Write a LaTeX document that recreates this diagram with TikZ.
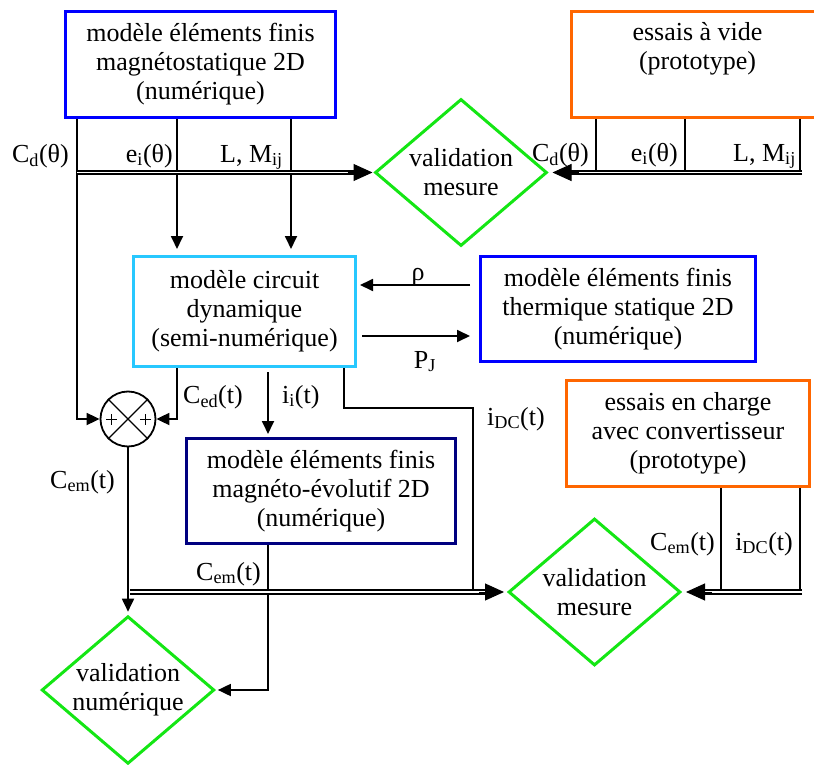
\documentclass[tikz,border=0pt]{standalone}
\usepackage{fontspec}
\setmainfont{Liberation Serif}
\usetikzlibrary{shapes.geometric,arrows.meta}
\definecolor{cblue}{RGB}{0,0,255}
\definecolor{ccyan}{RGB}{40,200,255}
\definecolor{cnavy}{RGB}{0,0,128}
\definecolor{corange}{RGB}{255,102,0}
\definecolor{cgreen}{RGB}{20,230,20}
\tikzset{
  box/.style={rectangle, draw, line width=3pt, align=center, inner sep=0pt},
  vdiam/.style={diamond, draw=cgreen, line width=3pt, aspect=1.17,
    minimum width=172pt, minimum height=147pt, inner sep=0pt, align=center},
  ln/.style={line width=1.8pt},
  thinln/.style={line width=1.5pt},
  sarr/.style={ln, -{Triangle[length=13pt,width=12pt]}},
  dbl/.style={double, double distance=1.6pt, line width=2pt},
  bigtip/.style={line width=1pt, -{Triangle[length=19pt,width=17pt]}},
  lbl/.style={inner sep=0pt},
}
\begin{document}
\begin{tikzpicture}[x=1pt, y=-1pt, font=\fontsize{26}{29}\selectfont]
\useasboundingbox (0,0) rectangle (814,765);

% guides
\coordinate (gL) at (77,0);
\coordinate (gE) at (177,0);
\coordinate (gM) at (291,0);
\coordinate (gI) at (268,0);
\coordinate (gD) at (344,0);
\coordinate (jD) at (473,408);
\coordinate (gB) at (130,0);
\coordinate (gR1) at (596,0);
\coordinate (gR2) at (685,0);
\coordinate (gRe) at (802,0);
\coordinate (gQ1) at (721,0);
\coordinate (gQ2) at (800,0);
\coordinate (yRho) at (0,285);
\coordinate (yPJ) at (0,336);

% boxes
\node[box, draw=cblue, minimum width=270pt, minimum height=106pt] (tl) at (200.5,64.5)
  {modèle éléments finis\\magnétostatique 2D\\(numérique)};
\node[box, draw=corange, minimum width=252pt, minimum height=106pt] (ot) at (697.5,64.5)
  {essais à vide\\(prototype)\\\strut};
\node[box, draw=ccyan, minimum width=222pt, minimum height=110pt] (cy) at (244.5,311.5)
  {modèle circuit\\dynamique\\(semi-numérique)};
\node[box, draw=cblue, minimum width=275pt, minimum height=105pt] (rb) at (618,309)
  {modèle éléments finis\\thermique statique 2D\\(numérique)};
\node[box, draw=cnavy, minimum width=269pt, minimum height=105pt] (nv) at (321,491)
  {modèle éléments finis\\magnéto-évolutif 2D\\(numérique)};
\node[box, draw=corange, minimum width=243pt, minimum height=106pt] (ob) at (688,433.5)
  {essais en charge\\avec convertisseur\\(prototype)};

% diamonds
\node[vdiam] (v1) at (461,172.5) {validation\\mesure};
\node[vdiam] (v2) at (594.5,592) {validation\\mesure};
\node[vdiam] (v3) at (128,690) {validation\\numérique};

% summing junction
\node[circle, draw, line width=1.8pt, minimum size=55pt, inner sep=0pt] (sum) at (128,419) {};
\draw[line width=1.2pt] (sum.north west) -- (sum.south east);
\draw[line width=1.2pt] (sum.north east) -- (sum.south west);
\draw[line width=1pt] ([xshift=-22pt]sum.center) -- ([xshift=-11pt]sum.center)
  ([xshift=-16.5pt,yshift=-5.5pt]sum.center) -- ([xshift=-16.5pt,yshift=5.5pt]sum.center);
\draw[line width=1pt] ([xshift=12pt]sum.center) -- ([xshift=23pt]sum.center)
  ([xshift=17.5pt,yshift=-5.5pt]sum.center) -- ([xshift=17.5pt,yshift=5.5pt]sum.center);

% top-left connectors
\draw[sarr] (tl.south -| gL) |- (sum.west);
\draw[sarr, shorten >=6pt] (tl.south -| gE) -- (cy.north -| gE);
\draw[sarr, shorten >=6pt] (tl.south -| gM) -- (cy.north -| gM);
\draw[dbl, shorten >=16pt] (gL |- v1.west) -- (v1.west);
\draw[bigtip, shorten >=1pt] ([xshift=-26pt]v1.west) -- (v1.west);

% top-right connectors
\draw[thinln] (ot.south -| gR1) -- (gR1 |- v1.east);
\draw[thinln] (ot.south -| gR2) -- (gR2 |- v1.east);
\draw[thinln] (ot.south -| gQ2) -- (gQ2 |- v1.east);
\draw[dbl, shorten >=18pt] (gRe |- v1.east) -- (v1.east);
\draw[bigtip, shorten >=4pt] ([xshift=30pt]v1.east) -- (v1.east);

% thermal coupling
\draw[sarr, shorten <=9pt, shorten >=3pt] (rb.west |- yRho) -- (cy.east |- yRho);
\draw[sarr, shorten <=5pt, shorten >=9pt] (cy.east |- yPJ) -- (rb.west |- yPJ);

% circuit model outputs
\draw[sarr] (cy.south -| gE) |- (sum.east);
\draw[sarr, shorten <=4pt, shorten >=3pt] (cy.south -| gI) -- (nv.north -| gI);
\draw[ln] (cy.south -| gD) |- (jD) -- (jD |- v2.west);
\draw[sarr, shorten >=3pt] (sum.south) -- (v3.north);
\draw[sarr, shorten >=2pt] (nv.south -| gI) |- (v3.east);

% bottom double line
\draw[dbl, shorten >=18pt] (gB |- v2.west) -- (v2.west);
\draw[bigtip, shorten >=3pt] ([xshift=-28pt]v2.west) -- (v2.west);

% bottom-right connectors
\draw[thinln] (ob.south -| gQ1) -- (gQ1 |- v2.east);
\draw[thinln] (ob.south -| gQ2) -- (gQ2 |- v2.east);
\draw[dbl, shorten >=18pt] (gRe |- v2.east) -- (v2.east);
\draw[bigtip, shorten >=4pt] ([xshift=30pt]v2.east) -- (v2.east);

% labels
\node[lbl, anchor=base east] (lCd1) at (69,162) {C\textsubscript{d}(θ)};
\node[lbl, anchor=base east] (lei1) at (173,162) {e\textsubscript{i}(θ)};
\node[lbl, anchor=base east] (lLM1) at (283,162) {L, M\textsubscript{ij}};
\node[lbl, anchor=base east] (lCd2) at (589,161) {C\textsubscript{d}(θ)};
\node[lbl, anchor=base east] (lei2) at (678,161) {e\textsubscript{i}(θ)};
\node[lbl, anchor=base east] (lLM2) at (796,161) {L, M\textsubscript{ij}};
\node[lbl, anchor=base] (lrho) at (418,280) {ρ};
\node[lbl, anchor=base] (lPJ) at (425,368) {P\textsubscript{J}};
\node[lbl, anchor=base west] (lCed) at (183,403) {C\textsubscript{ed}(t)};
\node[lbl, anchor=base west] (lii) at (282,403) {i\textsubscript{i}(t)};
\node[lbl, anchor=base west] (liDC) at (487,425) {i\textsubscript{DC}(t)};
\node[lbl, anchor=base east] (lCem1) at (115,488) {C\textsubscript{em}(t)};
\node[lbl, anchor=base east] (lCem2) at (261,580) {C\textsubscript{em}(t)};
\node[lbl, anchor=base east] (lCem3) at (715,550) {C\textsubscript{em}(t)};
\node[lbl, anchor=base east] (liDC2) at (793,550) {i\textsubscript{DC}(t)};
\end{tikzpicture}
\end{document}
